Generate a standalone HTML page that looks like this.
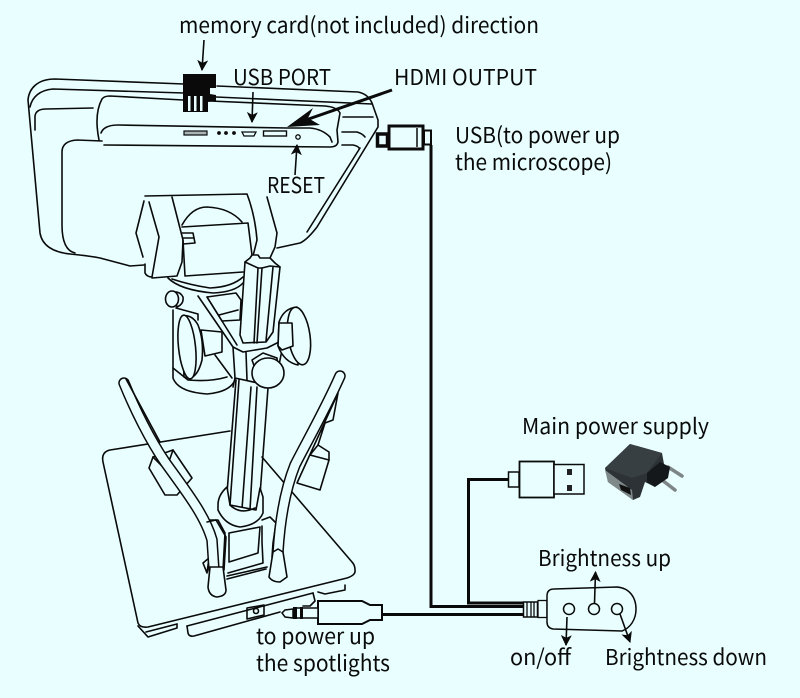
<!DOCTYPE html>
<html><head><meta charset="utf-8"><style>
html,body{margin:0;padding:0;background:#e9ffff}
svg{display:block}
text{font-family:"Noto Sans CJK SC","Liberation Sans",sans-serif;font-size:22px;fill:#0a0a0a}
.l{fill:none;stroke:#0a0a0a;stroke-width:1.6;stroke-linejoin:round;stroke-linecap:round}
.f{fill:#e9ffff;stroke:#0a0a0a;stroke-width:1.6;stroke-linejoin:round}
.c{fill:none;stroke:#0a0a0a;stroke-width:3}
.a{fill:none;stroke:#0a0a0a;stroke-width:1.6}
</style></head><body>
<svg width="800" height="698" viewBox="0 0 800 698" xmlns="http://www.w3.org/2000/svg">
<defs>
<marker id="h2" viewBox="0 0 10 10" refX="9" refY="5" markerWidth="11" markerHeight="11" markerUnits="userSpaceOnUse" orient="auto"><path d="M0,0 L10,5 L0,10 L2.5,5 Z" fill="#0a0a0a"/></marker></defs>
<rect width="800" height="698" fill="#e9ffff"/>

<!-- monitor -->
<g class="l">
<path d="M184,84 L55,79 C38,79 29,88 28,100 L40,233 C42,245 52,252 70,254 Q90,256 100,258 L130,266 L144,265"/>
<path d="M184,93 L53,89 C40,90 32,97 30,107"/>
<path d="M35,130 L35,116 Q36,109 46,109 L93,108"/>
<path d="M102,141 L77,140 Q62,141 62,152 L62,225 Q62,250 75,253"/>
<path d="M217,86 L358,92 Q368,94 372,103 L378,120 L378,127 L317,227 Q307,240 300,243 L277,248"/>
<path d="M216,97 L372,104"/>
<path d="M360,148 L307,232"/>
<path d="M343,117 L373,117"/>
<path d="M342,132 L357,132 Q363,134 365,137"/>
<path d="M342,145 L353,145 Q358,146 359,148"/>
<path d="M99,140 C96,125 96,110 102,99 Q104,96 110,96 L183,100"/>
<path d="M210,101 L325,106 Q337,107 340,113 L337,130 L338,142 Q337,147 330,147 L104,145"/>
<path d="M101,133 Q104,125 118,125 L287,128 L310,128 Q322,129 330,137 L332,142"/>
</g>
<!-- ports -->
<rect x="184" y="131" width="23" height="4" fill="#a8b4b4" stroke="#0a0a0a" stroke-width="1.2"/>
<circle cx="219" cy="133" r="1.9" fill="#0a0a0a"/><circle cx="226" cy="133" r="1.9" fill="#0a0a0a"/><circle cx="234" cy="133" r="1.9" fill="#0a0a0a"/>
<path d="M242,132 L256,132 L254,136 L244,136 Z" fill="none" stroke="#0a0a0a" stroke-width="1.3"/>
<rect x="263.500" y="131" width="23" height="5" fill="none" stroke="#0a0a0a" stroke-width="1.4"/>
<circle cx="298" cy="137" r="2.2" fill="none" stroke="#0a0a0a" stroke-width="1.3"/>
<!-- memory card -->
<path d="M183,74 H216 V88 L210,88 V94 L216,95 V101 L208,102 V112 H183 Z" fill="#0a0a0a"/>
<rect x="188" y="96" width="2.500" height="15" fill="#e9ffff"/><rect x="194" y="96" width="2.500" height="15" fill="#e9ffff"/><rect x="200" y="96" width="2.500" height="15" fill="#e9ffff"/>
<!-- arrows top -->
<line x1="204" y1="40" x2="202" y2="70" class="a" marker-end="url(#h2)"/>
<line x1="253" y1="92" x2="252" y2="122" class="a" marker-end="url(#h2)"/>
<line x1="295" y1="175" x2="297" y2="145" class="a" marker-end="url(#h2)"/>
<line x1="392" y1="90" x2="300" y2="122" stroke="#0a0a0a" stroke-width="3"/>
<path d="M287,127 L313,108 L308,118 L320,125 Z" fill="#0a0a0a"/>

<!-- camera -->
<g class="l">
<path d="M145,196 L247,194 Q255,215 257,240 L253,256"/>
<path d="M144,201 L136,233 L143,257"/>
<path d="M149,202 L159,237 L152,277 Q147,277 145,273 L145,264"/>
<path d="M172,197 L183,240 L182,262 L177,276 L152,278"/>
<path d="M182,225 Q192,207 207,207 Q230,208 242,222"/>
<path d="M182,227 L248,223 L252,255"/>
<path d="M183,240 L185,276 L243,272"/>
<path d="M182,233 L193,233 L195,243 L183,244"/><path d="M183,238 L194,238"/>
<path d="M267,197 L277,233 L275,247 L270,258"/>
<path d="M168,278 Q180,290 213,293 Q235,292 243,283"/>
<path d="M172,279 Q190,285 210,288 Q232,287 243,277"/>
<path d="M173,310 L173,378 Q178,392 207,394 Q230,392 235,380"/>
<path d="M173,368 L188,380 Q210,382 227,377"/>
<path d="M176,308 L198,314 L198,320"/>
<path d="M198,296 L233,347 L243,352 L267,348 L283,340"/>
<path d="M207,297 L237,345"/>
<path d="M207,297 L236,293 L241,300 L240,320 L222,321 Z"/>
<path d="M219,315 L238,310"/>
<path d="M233,347 L235,378 L267,385"/>
<path d="M246,352 L247,380"/>
<path d="M215,355 L232,378"/>
<path d="M283,345 L278,370"/>
<path d="M235,378 L233,387"/>
</g>
<path d="M172,292 Q180,291 183,297 Q184,304 177,307 Z" class="f"/>
<ellipse cx="172" cy="299" rx="6.500" ry="8" class="f"/>
<path d="M201,330 L222,332 L222,352 L205,356 Z" class="f"/>
<path d="M182,316 Q192,314 198,325 Q204,340 202,360 Q198,376 190,378 L184,377 Z" class="f"/>
<ellipse cx="187" cy="347" rx="8.500" ry="32" transform="rotate(-6 187 347)" class="f"/>
<!-- column -->
<path d="M245,262 L250,258 L252,255 L258,255 L260,258 L270,258 L275,263 L280,267 L273,332 L266,342 L243,343 L240,335 Z" class="f"/>
<g class="l">
<path d="M258,268 L254,343"/><path d="M262,268 L257,343"/><path d="M245,262 L258,268 L262,268 L270,266 L280,267"/><path d="M273,267 L266,341"/>
<path d="M236,380 L227,493"/><path d="M239,380 L230,505"/><path d="M251,387 L242,509"/><path d="M257,387 L250,510"/><path d="M268,388 L260,495"/>
</g>
<!-- right knob -->
<path d="M297,307 Q284,308 279,322 L278,346 Q284,362 298,365 Z" class="f"/>
<ellipse cx="299" cy="336" rx="11" ry="29" transform="rotate(-8 299 336)" class="f"/>
<path d="M279,323 L292,323 L293,346 L282,350 L278,346 Z" class="f"/>
<!-- front knob -->
<path d="M252,360 L263,353 L277,358 L278,370 L260,382 Z" class="f"/>
<ellipse cx="268" cy="373" rx="16" ry="15" class="f"/>
<!-- plate -->
<g class="l">
<path d="M230,431 L110,450 Q101,452 103,462 L138,623 Q140,628 148,627 L347,578 Q356,575 355,570 Q355,565 352,562 L262,457"/>
<path d="M138,626 L148,637 L177,628 L177,624"/>
<path d="M146,632 L177,624"/>
<path d="M187,626 L188,633 Q189,637 194,636 L280,612"/>
<path d="M187,626 L313,593"/>
<path d="M313,593 L315,601 L310,606 L303,606"/>
<path d="M318,592 L325,594 L345,590 L345,585"/>
<path d="M247,608 L264,605 L264,615 L247,619 Z"/>
<circle cx="256" cy="611" r="2.500"/>
</g>
<!-- base block -->
<g class="l">
<path d="M262,520 L270,517 L276,523 L273,543 L272,557"/>
<path d="M203,563 L209,558 L207,573 Z"/>
<path d="M210,520 L218,520 L225,533 L223,570"/>
<path d="M229,533 L260,527 L258,553 L229,562 Z"/>
<path d="M262,526 L262,542 L263,563 L228,573"/>
<path d="M227,576 L267,567"/>
<path d="M227,579 L266,569"/>
</g>
<!-- collar -->
<path d="M227,487 Q218,495 218,505 L218,510 Q225,525 240,527 Q258,525 263,513 L263,497 L260,488 L256,510 L230,505 Z" class="f"/>
<path d="M230,505 Q240,515 255,508" class="l"/>
<!-- left head and gooseneck -->
<path d="M173,450 L192,478 L177,495 L165,495 L149,468 L153,457 Z" class="f"/>
<path d="M153,457 L166,470 L173,450" class="l"/>
<path d="M124,383 C135,410 150,440 165,462 C185,490 205,515 212,540 L214,570" fill="none" stroke="#0a0a0a" stroke-width="11.500" stroke-linecap="round"/>
<path d="M124,383 C135,410 150,440 165,462 C185,490 205,515 212,540 L214,570" fill="none" stroke="#e9ffff" stroke-width="8.500" stroke-linecap="round"/>
<path d="M126,379 L160,442" class="l"/>
<path d="M210,567 L208,587 Q209,596 217,597 Q226,596 226,590 L223,567 Z" class="f"/>
<path d="M207,522 L216,520 L226,537 L224,570" class="l"/>
<!-- right head and gooseneck -->
<path d="M338,393 L333,420 L325,423 L318,445 L310,455 L329,460 L320,490 L297,483 Z" class="f"/>
<path d="M318,445 L329,452 L329,460" class="l"/>
<path d="M340,376 C325,410 305,445 295,465 C285,490 280,520 278,552" fill="none" stroke="#0a0a0a" stroke-width="11.500" stroke-linecap="round"/>
<path d="M340,376 C325,410 305,445 295,465 C285,490 280,520 278,552" fill="none" stroke="#e9ffff" stroke-width="8.500" stroke-linecap="round"/>
<path d="M273,552 L269,577 Q272,582 280,582 L287,577 L283,552 L278,549 Z" class="f"/>

<!-- top usb connector -->
<rect x="377.500" y="134" width="10" height="12" fill="#e9ffff" stroke="#0a0a0a" stroke-width="3.500"/>
<rect x="389" y="126" width="34" height="23" fill="#e9ffff" stroke="#0a0a0a" stroke-width="3"/>
<line x1="417" y1="128" x2="417" y2="147" stroke="#0a0a0a" stroke-width="1.500"/>
<rect x="424" y="130.500" width="7" height="14" fill="#e9ffff" stroke="#0a0a0a" stroke-width="2"/>
<!-- cables -->
<path d="M431,145 V606.500 H524" class="c"/>
<path d="M508,479.500 H468.500 V603 H524" class="c"/>
<path d="M382,614.500 H524" class="c"/>
<!-- audio plug -->
<path d="M318,601 H362 L370,605 H382 V620 H370 L362,624 H318 Z" fill="#e9ffff" stroke="#0a0a0a" stroke-width="2"/>
<path d="M296,608 H318 V618 H296 Z" fill="#e9ffff" stroke="#0a0a0a" stroke-width="1.500"/>
<rect x="293" y="607" width="4" height="12" fill="#0a0a0a"/><rect x="300" y="607" width="3" height="12" fill="#0a0a0a"/>
<path d="M293,609 L285,610 L282,613 L285,617 L293,618 Z" fill="#e9ffff" stroke="#0a0a0a" stroke-width="1.500"/>
<!-- usb a -->
<rect x="508.500" y="472" width="10.500" height="15" fill="#e9ffff" stroke="#0a0a0a" stroke-width="1.500"/>
<rect x="519.500" y="461.500" width="34.500" height="36" fill="#e9ffff" stroke="#0a0a0a" stroke-width="1.800"/>
<rect x="554" y="464.500" width="30" height="29.500" fill="#e9ffff" stroke="#0a0a0a" stroke-width="1.500"/>
<rect x="567" y="469" width="5" height="6" fill="#222"/><rect x="567" y="485" width="5" height="6" fill="#222"/>
<!-- adapter -->
<path d="M668,467 L682,476" stroke="#7d8586" stroke-width="3.500" stroke-linecap="round"/>
<path d="M662,480 L675,490" stroke="#7d8586" stroke-width="3.500" stroke-linecap="round"/>
<path d="M605,468 L630,444 L662,453 L664,464 L655,487 L645,482 L640,497 L633,500 L608,482 Z" fill="#2c3236"/>
<path d="M605,468 L630,444 L662,453 L647,473 L632,478 Z" fill="#383f43"/>
<path d="M605,470 L632,490 L633,500 L608,482 Z" fill="#80898a"/>
<path d="M619,484 L630,488 L631,495 L621,490 Z" fill="#111"/>
<path d="M647,473 L660,462 L670,467 L668,478 L655,487 L647,482 Z" fill="#15181a"/>
<!-- controller -->
<rect x="523.500" y="602" width="14" height="15" fill="#e9ffff" stroke="#0a0a0a" stroke-width="1.500"/>
<path d="M527,602 V617 M531,602 V617 M534,602 V617" stroke="#0a0a0a" stroke-width="1.300"/>
<rect x="538" y="600.500" width="9" height="17" fill="#e9ffff" stroke="#0a0a0a" stroke-width="1.300"/>
<path d="M547,596 Q547,589 554,589 L617,587 C630,588 636,598 636,609 C636,620 630,628 622,631 L553,629 Q547,628 547,622 Z" fill="#e9ffff" stroke="#0a0a0a" stroke-width="1.500"/>
<circle cx="569" cy="609" r="5.500" fill="#e9ffff" stroke="#0a0a0a" stroke-width="1.500"/>
<circle cx="594" cy="609" r="5.500" fill="#e9ffff" stroke="#0a0a0a" stroke-width="1.500"/>
<circle cx="617" cy="609" r="5.500" fill="#e9ffff" stroke="#0a0a0a" stroke-width="1.500"/>
<line x1="594.500" y1="603" x2="595.500" y2="572" class="a" marker-end="url(#h2)"/>
<line x1="567" y1="617" x2="566" y2="645" class="a" marker-end="url(#h2)"/>
<line x1="620" y1="614" x2="630" y2="642" class="a" marker-end="url(#h2)"/>

<!-- labels -->
<text x="179" y="33" textLength="360" lengthAdjust="spacingAndGlyphs">memory card(not included) direction</text>
<text x="233" y="85" textLength="98" lengthAdjust="spacingAndGlyphs">USB PORT</text>
<text x="394" y="85" textLength="143" lengthAdjust="spacingAndGlyphs">HDMI OUTPUT</text>
<text x="267" y="193" textLength="58" lengthAdjust="spacingAndGlyphs">RESET</text>
<text x="455" y="143" textLength="165" lengthAdjust="spacingAndGlyphs">USB(to power up</text>
<text x="455" y="170" textLength="157" lengthAdjust="spacingAndGlyphs">the microscope)</text>
<text x="522" y="434" textLength="187" lengthAdjust="spacingAndGlyphs">Main power supply</text>
<text x="538" y="566" textLength="133" lengthAdjust="spacingAndGlyphs">Brightness up</text>
<text x="510" y="665" textLength="61" lengthAdjust="spacingAndGlyphs">on/off</text>
<text x="605" y="665" textLength="162" lengthAdjust="spacingAndGlyphs">Brightness down</text>
<text x="256" y="644" textLength="119" lengthAdjust="spacingAndGlyphs">to power up</text>
<text x="256" y="671" textLength="134" lengthAdjust="spacingAndGlyphs">the spotlights</text>
</svg>
</body></html>
